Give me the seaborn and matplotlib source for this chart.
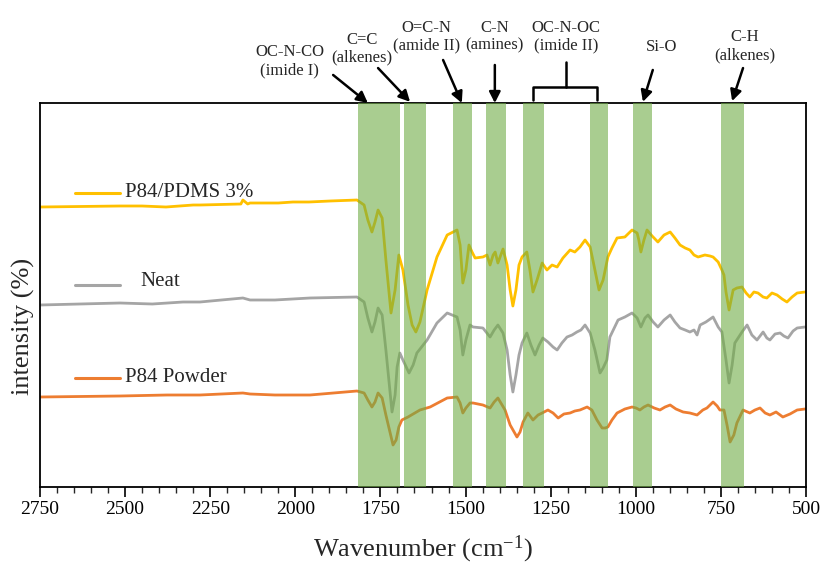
import matplotlib
matplotlib.use("Agg")
import matplotlib.pyplot as plt
import matplotlib.transforms as mtransforms
from matplotlib.ticker import MultipleLocator
import seaborn as sns
import pandas as pd

# ---------------- data ----------------
pdms_wn = [2750, 2515, 2450, 2380, 2300, 2280, 2160, 2154, 2140, 2133, 2050, 2007, 1960, 1898, 1819,
           1798, 1787, 1775, 1766, 1757, 1745, 1734, 1719, 1707, 1696, 1684, 1669, 1657, 1646, 1634,
           1613, 1584, 1554, 1525, 1516, 1508, 1499, 1490, 1481, 1472, 1449, 1437, 1428, 1419, 1413,
           1405, 1390, 1378, 1369, 1361, 1352, 1343, 1334, 1320, 1311, 1302, 1290, 1275, 1261, 1246,
           1231, 1214, 1193, 1179, 1164, 1149, 1134, 1123, 1108, 1096, 1082, 1070, 1055, 1032, 1011,
           996, 991, 985, 976, 967, 952, 935, 917, 899, 885, 870, 855, 841, 829, 817, 797, 782, 773,
           758, 747, 741, 735, 726, 720, 714, 703, 688, 676, 665, 653, 641, 626, 615, 600, 585, 570,
           556, 541, 526, 503]
pdms_int = [280, 281, 281, 280, 282, 282, 283, 287, 283, 284, 284, 285, 285, 286, 287,
            282, 267, 255, 265, 277, 269, 227, 174, 197, 232, 217, 182, 162, 155, 165,
            197, 230, 252, 257, 242, 204, 217, 242, 235, 229, 230, 232, 222, 232, 235,
            224, 238, 222, 197, 181, 197, 222, 230, 235, 217, 195, 207, 224, 217, 222,
            220, 229, 237, 235, 240, 247, 240, 222, 197, 207, 230, 239, 249, 250, 257,
            254, 247, 235, 247, 257, 251, 245, 252, 255, 249, 242, 239, 237, 232, 230, 232, 231, 230,
            225, 217, 212, 195, 177, 187, 197, 199, 200, 194, 190, 195, 194, 190, 189, 194, 192, 188,
            185, 190, 194, 195]

neat_wn = [2750, 2515, 2420, 2330, 2280, 2154, 2133, 2060, 1957, 1819,
           1798, 1787, 1775, 1766, 1757, 1745, 1734, 1716, 1707, 1701, 1693, 1684, 1666, 1654, 1643,
           1613, 1584, 1554, 1525, 1516, 1508, 1499, 1487, 1478, 1449, 1428, 1416, 1405, 1390, 1378,
           1369, 1361, 1352, 1343, 1334, 1320, 1308, 1296, 1284, 1273, 1258, 1243, 1231, 1217, 1202,
           1187, 1173, 1161, 1149, 1134, 1120, 1105, 1096, 1085, 1076, 1052, 1032, 1011, 996, 985,
           973, 964, 949, 935, 917, 899, 885, 870, 855, 841, 829, 820, 811, 794, 773, 758, 747, 735,
           726, 717, 709, 688, 673, 659, 644, 626, 615, 606, 591, 576, 565, 553, 538, 526, 503]
neat_int = [182, 184, 183, 185, 185, 189, 187, 187, 189, 190,
            185, 169, 155, 165, 179, 172, 137, 75, 92, 120, 134, 127, 114, 122, 134,
            147, 164, 174, 170, 157, 132, 147, 162, 160, 159, 150, 157, 162, 154, 137,
            112, 95, 112, 132, 144, 154, 142, 132, 142, 149, 145, 140, 137, 144, 150,
            152, 155, 157, 162, 154, 137, 114, 119, 127, 150, 167, 170, 174, 169, 160,
            169, 172, 165, 160, 167, 172, 165, 159, 157, 155, 157, 152, 162, 165, 170, 160, 155, 127,
            104, 122, 144, 155, 162, 152, 147, 155, 149, 147, 153, 154, 151, 149, 156, 159, 160]

powder_wn = [2750, 2515, 2377, 2280, 2154, 2133, 2060, 1957, 1819,
             1798, 1787, 1775, 1766, 1757, 1745, 1734, 1713, 1704, 1696, 1687, 1669, 1634, 1604,
             1554, 1525, 1516, 1508, 1499, 1487, 1478, 1449, 1428, 1416, 1405, 1384, 1369, 1349,
             1340, 1331, 1317, 1302, 1287, 1275, 1258, 1243, 1228, 1211, 1193, 1179, 1164, 1143,
             1129, 1114, 1099, 1090, 1082, 1070, 1055, 1032, 1011, 999, 988, 976, 964, 946, 929,
             914, 899, 882, 861, 841, 820, 803, 791, 773, 761, 753, 741, 732, 723, 712, 703, 685,
             665, 650, 635, 620, 606, 588, 568, 547, 526, 503]
powder_int = [90, 91, 92, 92, 94, 93, 92, 92, 96,
              94, 87, 80, 85, 94, 89, 72, 42, 47, 60, 67, 70, 77, 80,
              89, 90, 84, 74, 79, 84, 84, 82, 79, 85, 89, 77, 62, 50,
              55, 65, 74, 67, 72, 74, 77, 74, 69, 73, 74, 76, 77, 80,
              77, 67, 59, 59, 60, 67, 74, 78, 80, 79, 77, 80, 82, 79, 77,
              80, 82, 78, 75, 74, 72, 77, 79, 85, 81, 77, 77, 62, 45, 52, 64, 77,
              74, 77, 79, 74, 72, 75, 70, 73, 77, 78]

series_names = ["P84/PDMS 3%", "Neat", "P84 Powder"]
series_colors = ["#FFC000", "#A5A5A5", "#ED7D31"]

band_hi = [1816, 1681, 1537, 1440, 1331, 1134, 1008, 749]
band_lo = [1692, 1616, 1481, 1381, 1269, 1081, 952, 682]

xticks = [2750, 2500, 2250, 2000, 1750, 1500, 1250, 1000, 750, 500]

# ---------------- style ----------------
sns.set_theme(style="white")
plt.rcParams["font.family"] = ["Liberation Serif", "DejaVu Serif"]
plt.rcParams["mathtext.fontset"] = "custom"
plt.rcParams["mathtext.rm"] = "Liberation Serif"
plt.rcParams["mathtext.it"] = "Liberation Serif:italic"

fig = plt.figure(figsize=(8.22, 5.72), dpi=100)
ax = fig.add_axes([40 / 822, 85 / 572, 766 / 822, 384 / 572])

frames = [
    pd.DataFrame({"wn": pdms_wn, "I": pdms_int}),
    pd.DataFrame({"wn": neat_wn, "I": neat_int}),
    pd.DataFrame({"wn": powder_wn, "I": powder_int}),
]
for df, c in zip(frames, series_colors):
    sns.lineplot(data=df, x="wn", y="I", color=c, lw=2.0, ax=ax, estimator=None,
                 zorder=2, solid_joinstyle="round")

for hi, lo in zip(band_hi, band_lo):
    ax.axvspan(lo, hi, color="#70AD47", alpha=0.6, lw=0, zorder=3)

ax.set_xlim(2750, 500)
ax.set_ylim(0, 384)
ax.set_yticks([])
ax.set_xticks(xticks)
ax.xaxis.set_minor_locator(MultipleLocator(50))
ax.tick_params(axis="x", which="major", direction="out", length=7, width=1.2,
               labelsize=14, pad=3, bottom=True, colors="black")
ax.tick_params(axis="x", which="minor", direction="out", length=4, width=1.0, bottom=True)
for s in ax.spines.values():
    s.set_color("black")
    s.set_linewidth(1.3)
    s.set_visible(True)

ax.set_xlabel("Wavenumber (cm$^{\\mathregular{-1}}$)", fontsize=19)
ax.xaxis.set_label_coords(0.5, -0.122)
ax.set_ylabel("intensity (%)", fontsize=19)
ax.yaxis.set_label_coords(-0.006, 0.417)

# ---------------- custom legend ----------------
leg_y_line = [0.766, 0.526, 0.284]
leg_y_text = [0.768, 0.534, 0.286]
leg_x_text = [0.111, 0.1305, 0.111]
for name, c, yl, yt, xt in zip(series_names, series_colors, leg_y_line, leg_y_text, leg_x_text):
    ax.plot([0.046, 0.105], [yl, yl], transform=ax.transAxes, color=c, lw=2.2, zorder=4)
    ax.text(xt, yt, name, transform=ax.transAxes, fontsize=15, va="center", ha="left", zorder=4)

# ---------------- annotations ----------------
trans = mtransforms.blended_transform_factory(ax.transData, ax.transAxes)
arrow_kw = dict(arrowstyle="-|>,head_length=0.55,head_width=0.28", lw=1.8, color="black",
                shrinkA=0, shrinkB=0)

labels = [
    ("OC-N-CO\n(imide I)", 2016, 1.109),
    ("C=C\n(alkenes)", 1804, 1.141),
    ("O=C-N\n(amide II)", 1616, 1.173),
    ("C-N\n(amines)", 1414, 1.173),
    ("OC-N-OC\n(imide II)", 1205, 1.173),
    ("Si-O", 923, 1.146),
    ("C-H\n(alkenes)", 679, 1.148),
]
for txt, x, y in labels:
    ax.text(x, y, txt, transform=trans, ha="center", va="center", fontsize=12,
            linespacing=1.15, clip_on=False)

arrows = [
    ((1889, 1.073), (1787, 1.0)),
    ((1757, 1.091), (1663, 1.003)),
    ((1566, 1.112), (1511, 1.0)),
    ((1414, 1.099), (1414, 1.0)),
    ((950, 1.086), (979, 1.003)),
    ((685, 1.091), (717, 1.005)),
]
for (x0, y0), (x1, y1) in arrows:
    ax.annotate("", xy=(x1, y1), xycoords=trans, xytext=(x0, y0), textcoords=trans,
                arrowprops=arrow_kw, annotation_clip=False)

# bracket for imide II
ax.plot([1302, 1302, 1114, 1114], [1.008, 1.042, 1.042, 1.008], transform=trans,
        color="black", lw=1.8, clip_on=False, solid_joinstyle="round")
ax.plot([1205, 1205], [1.042, 1.107], transform=trans, color="black", lw=1.8, clip_on=False)

fig.savefig("out.png", dpi=100)
